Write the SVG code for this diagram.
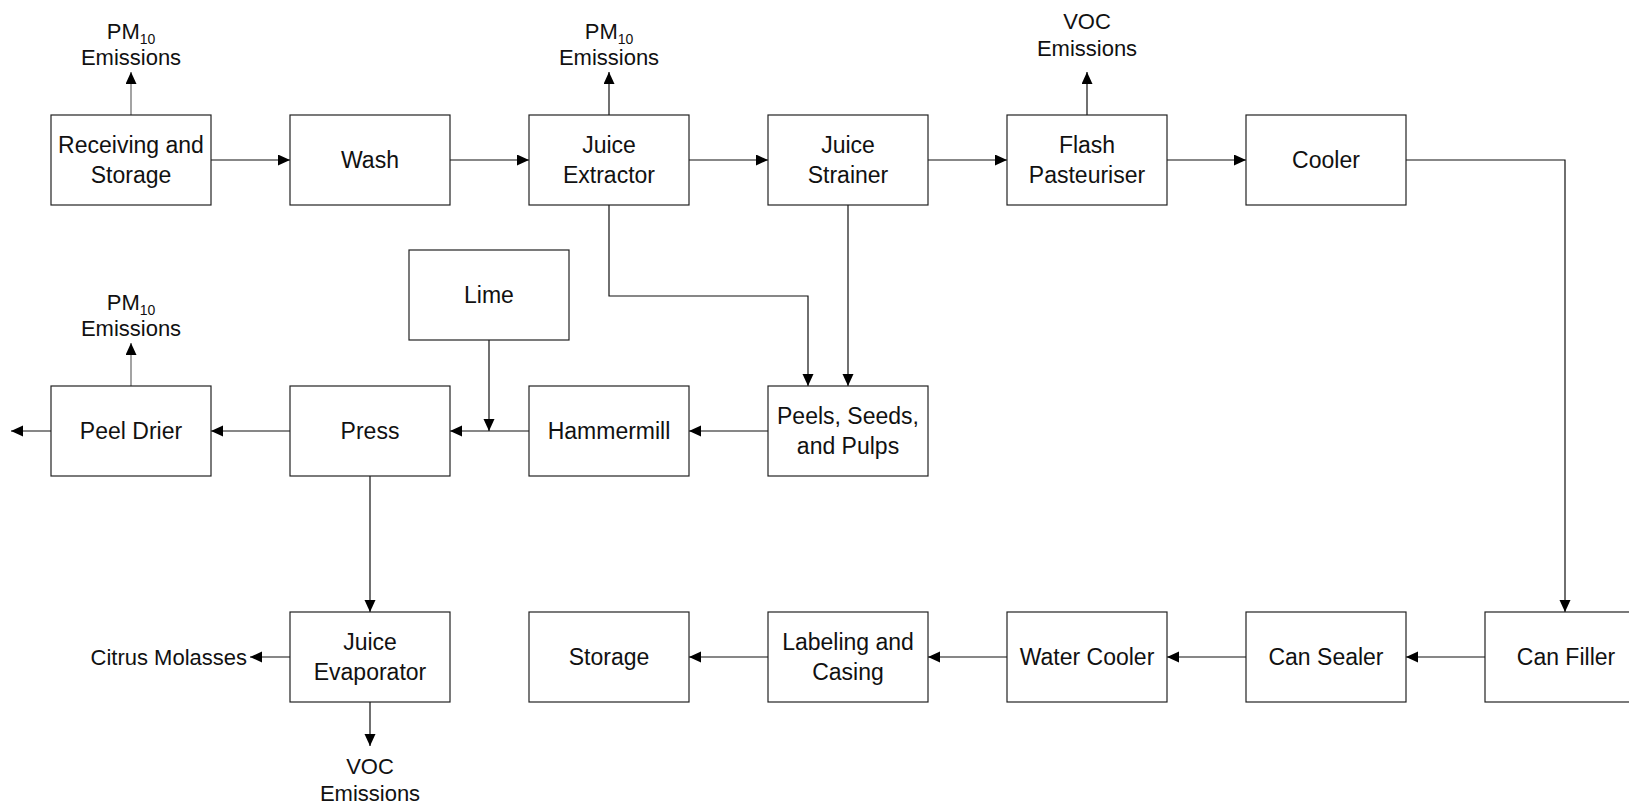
<svg xmlns="http://www.w3.org/2000/svg" width="1629" height="808" viewBox="0 0 1629 808">
<style>
.box{fill:#fff;stroke:#222;stroke-width:1.2}
.t{font-family:"Liberation Sans",Arial,sans-serif;font-size:23px;fill:#111;text-anchor:middle}
.e{font-family:"Liberation Sans",Arial,sans-serif;font-size:22px;fill:#111;text-anchor:middle}
.c{fill:none;stroke:#111;stroke-width:1.2}
</style>
<defs>
<marker id="ah" markerUnits="userSpaceOnUse" markerWidth="13" markerHeight="12" refX="12" refY="5.5" orient="auto">
<path d="M0,0 L12,5.5 L0,11 z" fill="#000"/>
</marker>
</defs>
<rect width="1629" height="808" fill="#fff"/>
<g id="connectors" class="c" marker-end="url(#ah)">
<path d="M211,160 H290"/>
<path d="M450,160 H529"/>
<path d="M689,160 H768"/>
<path d="M928,160 H1007"/>
<path d="M1167,160 H1246"/>
<path d="M1406,160 H1565 V612"/>
<path d="M609,205 V296 H808 V386"/>
<path d="M848,205 V386"/>
<path d="M768,431 H689"/>
<path d="M529,431 H450"/>
<path d="M489,340 V431"/>
<path d="M290,431 H211"/>
<path d="M51,431 H11"/>
<path d="M370,476 V612"/>
<path d="M290,657 H250"/>
<path d="M370,702 V746"/>
<path d="M1485,657 H1406"/>
<path d="M1246,657 H1167"/>
<path d="M1007,657 H928"/>
<path d="M768,657 H689"/>
<path d="M131,115 V72" stroke="#666"/>
<path d="M609,115 V72"/>
<path d="M1087,115 V72"/>
<path d="M131,386 V343" stroke="#666"/>
</g>
<g id="receiving"><rect class="box" x="51" y="115" width="160" height="90"/><text class="t" x="131" y="153.3">Receiving and</text><text class="t" x="131" y="182.7">Storage</text></g>
<g id="wash"><rect class="box" x="290" y="115" width="160" height="90"/><text class="t" x="370" y="168">Wash</text></g>
<g id="extractor"><rect class="box" x="529" y="115" width="160" height="90"/><text class="t" x="609" y="153.3">Juice</text><text class="t" x="609" y="182.7">Extractor</text></g>
<g id="strainer"><rect class="box" x="768" y="115" width="160" height="90"/><text class="t" x="848" y="153.3">Juice</text><text class="t" x="848" y="182.7">Strainer</text></g>
<g id="pasteuriser"><rect class="box" x="1007" y="115" width="160" height="90"/><text class="t" x="1087" y="153.3">Flash</text><text class="t" x="1087" y="182.7">Pasteuriser</text></g>
<g id="cooler"><rect class="box" x="1246" y="115" width="160" height="90"/><text class="t" x="1326" y="168">Cooler</text></g>
<g id="lime"><rect class="box" x="409" y="250" width="160" height="90"/><text class="t" x="489" y="303">Lime</text></g>
<g id="peeldrier"><rect class="box" x="51" y="386" width="160" height="90"/><text class="t" x="131" y="439">Peel Drier</text></g>
<g id="press"><rect class="box" x="290" y="386" width="160" height="90"/><text class="t" x="370" y="439">Press</text></g>
<g id="hammermill"><rect class="box" x="529" y="386" width="160" height="90"/><text class="t" x="609" y="439">Hammermill</text></g>
<g id="peels"><rect class="box" x="768" y="386" width="160" height="90"/><text class="t" x="848" y="424.3">Peels, Seeds,</text><text class="t" x="848" y="453.7">and Pulps</text></g>
<g id="evaporator"><rect class="box" x="290" y="612" width="160" height="90"/><text class="t" x="370" y="650.3">Juice</text><text class="t" x="370" y="679.7">Evaporator</text></g>
<g id="storage"><rect class="box" x="529" y="612" width="160" height="90"/><text class="t" x="609" y="665">Storage</text></g>
<g id="labeling"><rect class="box" x="768" y="612" width="160" height="90"/><text class="t" x="848" y="650.3">Labeling and</text><text class="t" x="848" y="679.7">Casing</text></g>
<g id="watercooler"><rect class="box" x="1007" y="612" width="160" height="90"/><text class="t" x="1087" y="665">Water Cooler</text></g>
<g id="cansealer"><rect class="box" x="1246" y="612" width="160" height="90"/><text class="t" x="1326" y="665">Can Sealer</text></g>
<g id="canfiller"><rect class="box" x="1485" y="612" width="160" height="90"/><text class="t" x="1566" y="665">Can Filler</text></g>
<g id="pm10-receiving"><text class="e" x="131" y="38.5">PM<tspan font-size="14" dy="5.5">10</tspan></text><text class="e" x="131" y="65">Emissions</text></g>
<g id="pm10-extractor"><text class="e" x="609" y="38.5">PM<tspan font-size="14" dy="5.5">10</tspan></text><text class="e" x="609" y="65">Emissions</text></g>
<g id="voc-pasteuriser"><text class="e" x="1087" y="29">VOC</text><text class="e" x="1087" y="56">Emissions</text></g>
<g id="pm10-peeldrier"><text class="e" x="131" y="309.5">PM<tspan font-size="14" dy="5.5">10</tspan></text><text class="e" x="131" y="336">Emissions</text></g>
<g id="citrus-molasses"><text class="t" x="247" y="664.5" style="text-anchor:end;font-size:22px">Citrus Molasses</text></g>
<g id="voc-evaporator"><text class="e" x="370" y="774">VOC</text><text class="e" x="370" y="801">Emissions</text></g>
</svg>
